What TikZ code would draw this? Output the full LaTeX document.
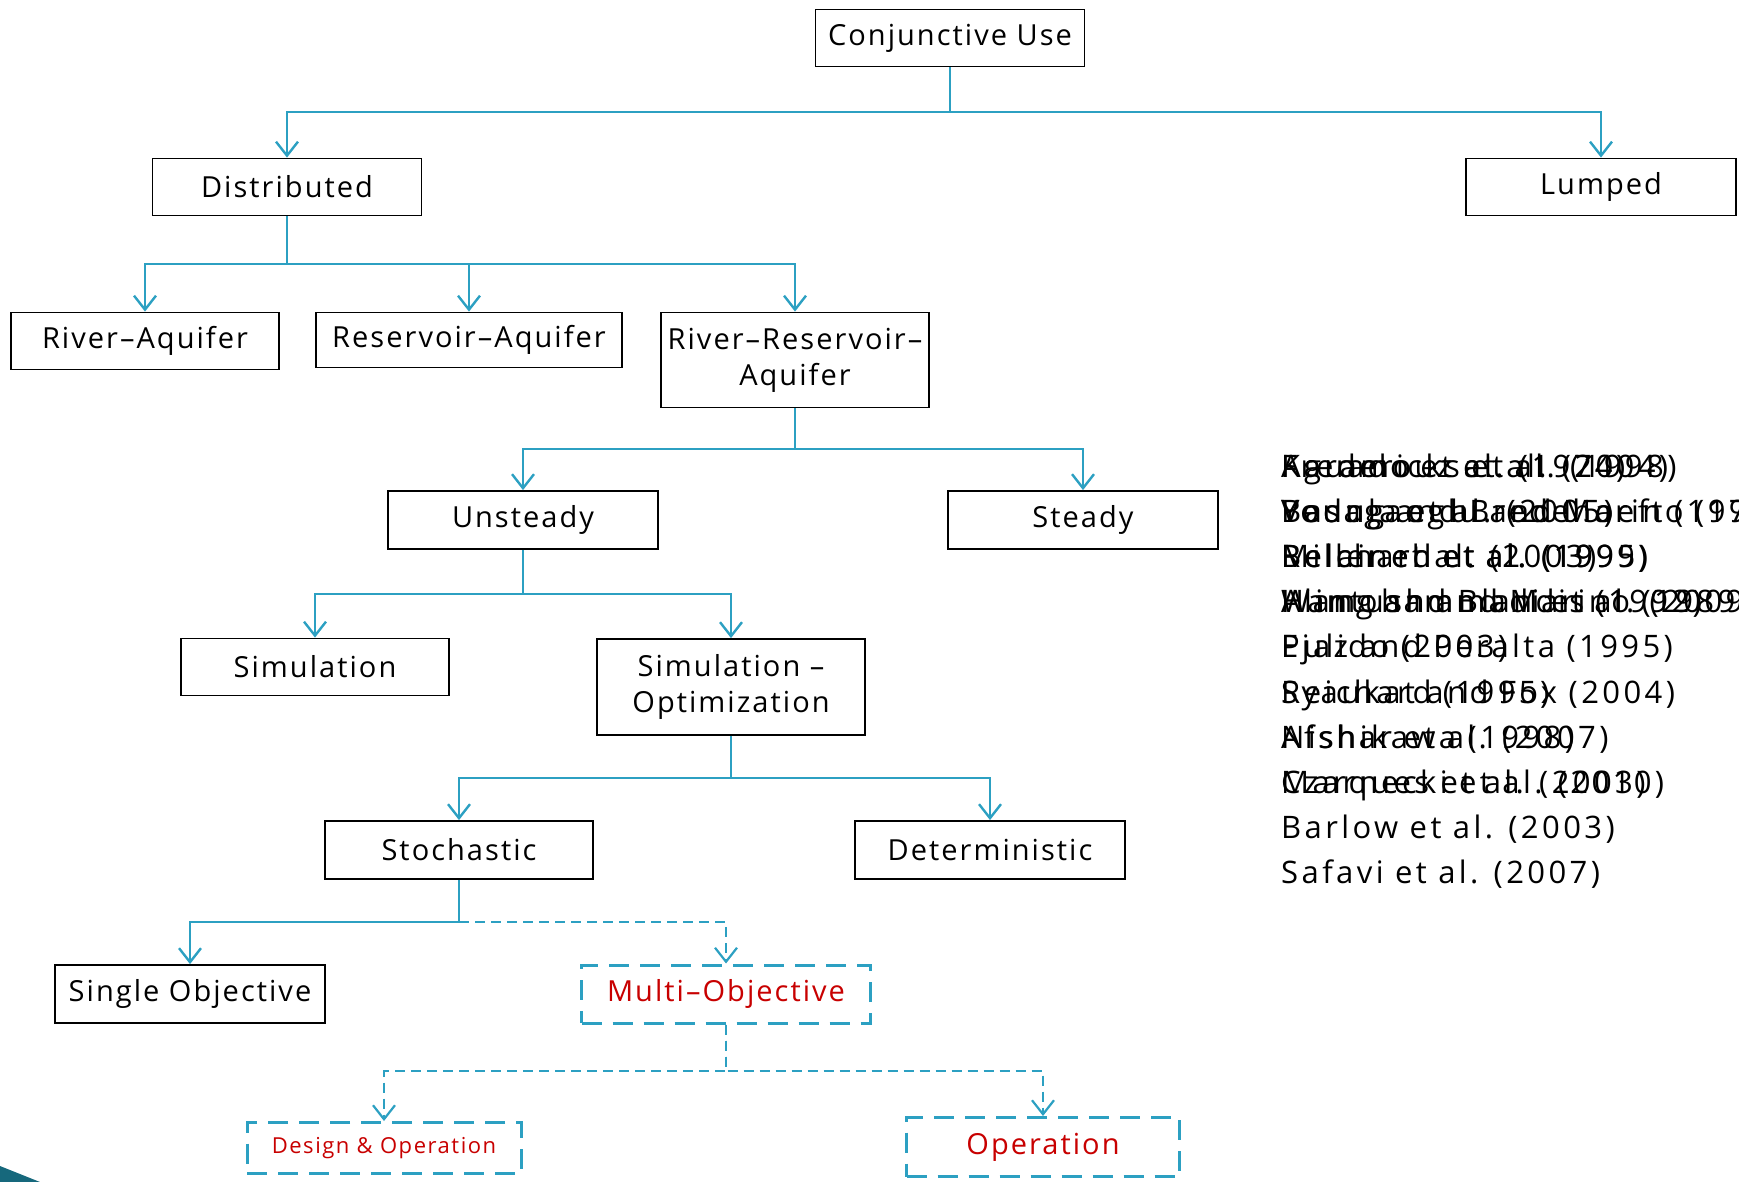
\documentclass[tikz,border=0pt]{standalone}
\usepackage{fontspec}
\setmainfont{Open Sans}
\newfontfamily\boxfont[LetterSpace=7]{Open Sans}
\newfontfamily\reffont[LetterSpace=11]{Open Sans}
\usetikzlibrary{arrows.meta}
\definecolor{lnc}{RGB}{44,160,194}
\definecolor{redt}{RGB}{200,0,0}
\definecolor{cornr}{RGB}{22,104,124}
\tikzset{
  box/.style={draw=black, line width=1.8pt, fill=white, inner sep=0pt, align=center,
    font=\boxfont\fontsize{29}{36}\selectfont},
  dbox/.style={draw=lnc, line width=3pt, dash pattern=on 20pt off 11pt, fill=white, inner sep=0pt,
    align=center, text=redt, font=\boxfont\fontsize{29}{36}\selectfont},
  conn/.style={draw=lnc, line width=2.6pt},
  arr/.style={conn, -{Straight Barb[length=14pt,width=22pt,line width=2.4pt]}},
  darr/.style={draw=lnc, line width=2.2pt, dash pattern=on 10pt off 6pt,
    -{Straight Barb[length=14pt,width=22pt,line width=2.2pt]}},
  ref/.style={anchor=base west, inner sep=0pt, font=\reffont\fontsize{31}{36}\selectfont}
}
\begin{document}
\begin{tikzpicture}[x=1pt,y=-1pt]
\useasboundingbox (0,0) rectangle (1739,1182);
\fill[cornr] (0,1166) -- (40,1182) -- (0,1182) -- cycle;

% nodes
\node[box, minimum width=269pt, minimum height=57pt] (cu) at (950,38) {Conjunctive Use};
\node[box, minimum width=269pt, minimum height=57pt] (dist) at (287,187) {Distributed};
\node[box, minimum width=270pt, minimum height=57pt] (lump) at (1601,187) {Lumped};
\node[box, minimum width=268pt, minimum height=57pt] (ra) at (145,341) {River–Aquifer};
\node[box, minimum width=306pt, minimum height=55pt] (resa) at (469,340) {Reservoir–Aquifer};
\node[box, minimum width=268pt, minimum height=95pt] (rra) at (795,360) {River–Reservoir–\\Aquifer};
\node[box, minimum width=270pt, minimum height=58pt] (uns) at (523,520) {Unsteady};
\node[box, minimum width=270pt, minimum height=58pt] (ste) at (1083,520) {Steady};
\node[box, minimum width=268pt, minimum height=57pt] (sim) at (315,667) {Simulation};
\node[box, minimum width=268pt, minimum height=96pt] (so) at (731,687) {Simulation –\\Optimization};
\node[box, minimum width=268pt, minimum height=58pt] (sto) at (459,850) {Stochastic};
\node[box, minimum width=270pt, minimum height=58pt] (det) at (990,850) {Deterministic};
\node[box, minimum width=270pt, minimum height=58pt] (single) at (190,994) {Single Objective};
\node[dbox, minimum width=289pt, minimum height=58pt] (multi) at (726,994) {Multi–Objective};
\node[dbox, minimum width=274pt, minimum height=51pt, font=\boxfont\fontsize{22}{26}\selectfont] (des) at (384,1148) {Design \& Operation};
\node[dbox, minimum width=273pt, minimum height=59pt] (op) at (1043,1147) {Operation};

% bus coordinates
\coordinate (b1) at (0,112);
\coordinate (b2) at (0,264);
\coordinate (b3) at (0,449);
\coordinate (b4) at (0,594);
\coordinate (b5) at (0,778);
\coordinate (b6) at (0,922);
\coordinate (b7) at (0,1071);

% connectors
\draw[arr] (cu.south) -- (cu.south |- b1) -| (dist.north);
\draw[arr] (cu.south) -- (cu.south |- b1) -| (lump.north);
\draw[arr] (dist.south) -- (dist.south |- b2) -| (ra.north);
\draw[arr] (dist.south) -- (dist.south |- b2) -| (resa.north);
\draw[arr] (dist.south) -- (dist.south |- b2) -| (rra.north);
\draw[arr] (rra.south) -- (rra.south |- b3) -| (uns.north);
\draw[arr] (rra.south) -- (rra.south |- b3) -| (ste.north);
\draw[arr] (uns.south) -- (uns.south |- b4) -| (sim.north);
\draw[arr] (uns.south) -- (uns.south |- b4) -| (so.north);
\draw[arr] (so.south) -- (so.south |- b5) -| (sto.north);
\draw[arr] (so.south) -- (so.south |- b5) -| (det.north);
\draw[arr] (sto.south) -- (sto.south |- b6) -| (single.north);
\draw[conn] (sto.south) -- (sto.south |- b6);
\draw[darr] (sto.south |- b6) -| (multi.north);
\draw[darr] (multi.south) -- (multi.south |- b7) -| (des.north);
\draw[darr] (multi.south) -- (multi.south |- b7) -| (op.north);

% overlapping reference lists
\begin{scope}
\clip (1270,420) rectangle (1739,900);
\foreach \t [count=\i] in {Fredericks et al. (1998), Basagaoglu and Marino (1999), Belaineh et al. (1999), Alimohammadi et al. (2009), Ejaz and Peralta (1995), Syaukat and Fox (2004), Afshar et al. (2007), Marques et al. (2003), Barlow et al. (2003), Safavi et al. (2007)}
  \node[ref] (la\i) at (1281,{466+11+45.2*(\i-1)}) {\t};
\foreach \t [count=\i] in {Karamouz et al. (2004), Vedula et al. (2005), Miller et al. (2003), Wang and Blandis (1992), Pulido (2003), Reichard (1995), Nishikawa (1998), Czarnecki et al. (2010)}
  \node[ref] (lb\i) at (1281,{466+11+45.2*(\i-1)}) {\t};
\foreach \t [count=\i] in {Aguado et al. (1974), Young and Bredehoeft (1972), Reichard et al. (1995), Hantush and Marino (1989)}
  \node[ref] (lc\i) at (1281,{466+11+45.2*(\i-1)}) {\t};
\end{scope}
\end{tikzpicture}
\end{document}
